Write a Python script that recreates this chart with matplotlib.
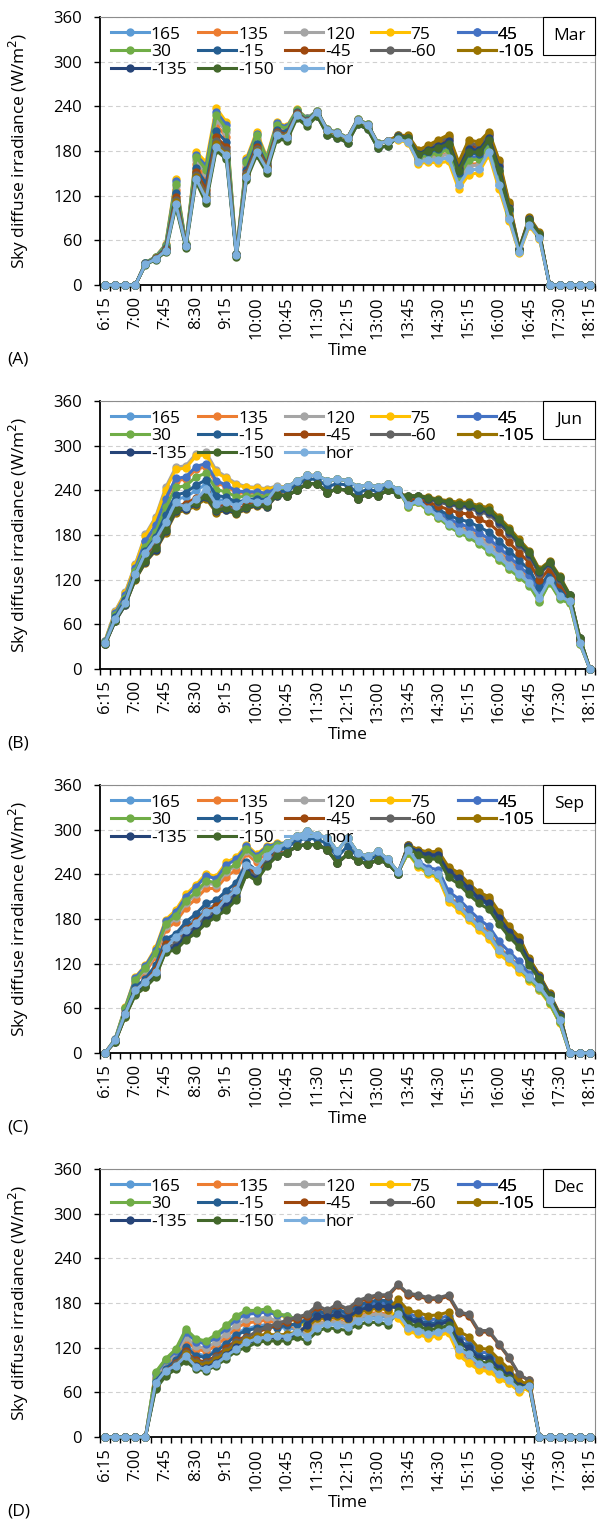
import numpy as np
import matplotlib
matplotlib.use('Agg')
import matplotlib.pyplot as plt
from matplotlib.patches import Rectangle

plt.rcParams['font.family'] = ['Open Sans', 'DejaVu Sans']

# time of day, 15 min steps
times = ['6:15', '6:30', '6:45', '7:00', '7:15', '7:30', '7:45', '8:00', '8:15', '8:30',
         '8:45', '9:00', '9:15', '9:30', '9:45', '10:00', '10:15', '10:30', '10:45', '11:00',
         '11:15', '11:30', '11:45', '12:00', '12:15', '12:30', '12:45', '13:00', '13:15', '13:30',
         '13:45', '14:00', '14:15', '14:30', '14:45', '15:00', '15:15', '15:30', '15:45', '16:00',
         '16:15', '16:30', '16:45', '17:00', '17:15', '17:30', '17:45', '18:00', '18:15']

series_names = ['165', '135', '120', '75', '45', '30', '-15', '-45', '-60', '-105', '-135', '-150', 'hor']
colors = ['#5B9BD5', '#ED7D31', '#A5A5A5', '#FFC000', '#4472C4', '#70AD47', '#255E91',
          '#9E480E', '#636363', '#997300', '#264478', '#43682B', '#7CAFDD']

# ---- March ----
mar_165 = [0,0,0,0,28,35,47,112,53,147,121,191,179,40,148,182,158,203,200,230,219,233,208,204,197,222,215,190,193,196,192,165,168,168,171,134,154,156,179,134,89,44,81,63,0,0,0,0,0]
mar_135 = [0,0,0,0,29,37,51,128,54,163,143,215,199,41,159,194,165,211,207,233,222,233,208,204,197,222,215,190,193,197,194,168,172,173,177,140,162,163,184,141,93,45,83,65,0,0,0,0,0]
mar_120 = [0,0,0,0,29,37,52,133,54,168,150,222,206,41,163,198,167,214,209,234,223,233,208,204,197,222,215,190,193,197,193,167,171,172,176,139,160,161,183,139,92,45,82,64,0,0,0,0,0]
mar_75 = [0,0,0,0,30,38,55,143,55,179,165,238,219,42,170,206,172,219,213,236,224,234,209,205,198,223,216,191,193,195,191,163,165,164,166,129,148,151,175,129,86,43,79,62,0,0,0,0,0]
mar_45 = [0,0,0,0,30,38,54,140,55,175,160,233,215,42,168,203,170,217,212,235,224,234,209,205,198,223,216,191,193,198,196,172,177,180,185,148,172,172,191,149,99,46,86,67,0,0,0,0,0]
mar_30 = [0,0,0,0,30,37,53,136,55,172,155,228,210,42,165,201,169,215,210,235,223,234,209,205,198,223,216,191,193,198,195,171,175,177,182,145,168,169,188,146,97,46,85,66,0,0,0,0,0]
mar_m15 = [0,0,0,0,29,36,50,123,54,157,136,207,192,41,155,190,162,208,205,232,221,233,208,204,197,222,215,190,193,199,197,174,179,183,188,151,177,176,194,153,101,47,87,67,0,0,0,0,0]
mar_m45 = [0,0,0,0,28,36,48,118,53,152,128,199,185,40,151,186,160,206,202,231,220,233,208,204,197,222,215,190,193,200,199,178,184,190,196,159,187,185,201,161,107,48,89,69,0,0,0,0,0]
mar_m60 = [0,0,0,0,28,35,47,114,53,148,123,194,181,40,149,183,158,204,201,230,220,233,208,204,197,222,215,190,193,201,200,179,186,192,199,162,191,188,203,165,109,49,90,70,0,0,0,0,0]
mar_m105 = [0,0,0,0,28,35,46,111,53,145,118,189,176,40,146,180,157,202,200,229,219,232,207,203,196,221,214,189,193,201,201,181,188,195,202,165,195,192,206,168,111,49,91,71,0,0,0,0,0]
mar_m135 = [0,0,0,0,28,35,46,108,52,142,114,184,172,40,144,177,154,199,197,227,217,227,202,198,191,216,209,184,187,200,198,176,182,187,193,156,183,181,198,158,104,48,88,69,0,0,0,0,0]
mar_m150 = [0,0,0,0,27,34,44,105,50,139,110,181,169,38,141,174,151,196,194,224,213,227,202,198,191,216,209,184,187,199,197,175,180,184,190,153,179,178,195,154,102,47,87,68,0,0,0,0,0]
mar_hor = [0,0,0,0,28,35,46,109,53,143,116,186,174,40,145,179,156,201,199,229,219,233,208,204,197,222,215,190,193,196,192,165,168,168,171,134,154,156,179,134,89,44,81,63,0,0,0,0,0]

# ---- June ----
jun_165 = [35,68,91,126,154,173,201,228,231,240,248,227,227,220,224,227,225,237,244,253,260,260,253,255,253,245,247,245,249,241,219,224,213,204,194,185,179,171,160,149,137,126,114,92,117,96,89,34,0]
jun_135 = [37,74,98,135,170,191,226,253,255,268,272,250,245,237,236,237,235,242,244,253,260,260,253,255,253,245,247,245,249,241,221,226,216,208,199,191,186,178,169,158,145,133,121,99,122,100,90,36,0]
jun_120 = [38,78,103,141,181,204,244,271,273,289,291,267,258,249,245,244,242,246,244,253,260,260,253,255,253,245,247,245,249,241,220,225,215,207,197,189,184,176,166,155,142,131,119,97,120,99,90,35,0]
jun_75 = [38,77,102,140,179,202,241,268,270,286,288,264,256,247,244,243,241,245,244,253,260,260,253,255,253,245,247,245,249,241,218,224,212,203,193,184,178,169,158,147,135,124,113,91,117,95,88,34,0]
jun_45 = [37,75,99,136,172,193,229,256,258,272,276,253,247,239,238,238,236,243,244,253,260,260,253,255,253,245,247,245,249,241,223,227,218,211,202,195,191,183,175,163,151,138,126,103,125,103,92,36,0]
jun_30 = [36,72,95,132,164,184,217,244,246,258,263,241,238,231,232,233,231,240,244,253,260,260,253,255,253,245,247,245,249,241,218,224,212,203,192,183,177,168,157,146,134,123,112,90,116,94,88,34,0]
jun_m15 = [35,70,93,128,158,177,207,234,237,247,254,233,231,224,227,229,227,238,239,247,255,255,245,249,247,237,241,239,245,238,225,228,221,214,207,201,198,191,184,172,159,146,133,110,129,108,93,38,0]
jun_m45 = [34,66,89,123,149,166,192,219,222,230,238,219,220,214,220,223,221,235,233,240,249,249,237,242,240,229,235,233,240,235,228,230,224,219,214,210,208,201,196,184,170,156,143,119,135,114,96,39,0]
jun_m60 = [34,65,88,122,147,164,189,216,219,226,235,216,218,212,218,222,220,234,233,240,249,249,237,242,240,229,235,233,240,235,231,232,228,224,221,218,217,211,208,195,182,166,152,127,141,120,98,41,0]
jun_m105 = [33,64,86,120,143,159,183,210,213,219,229,210,213,208,215,219,217,233,233,240,249,249,237,242,240,229,235,233,240,235,233,233,231,228,226,224,224,219,217,204,190,174,159,134,145,125,100,42,0]
jun_m135 = [33,64,86,121,144,160,185,212,215,221,231,212,214,209,216,220,218,233,233,240,249,249,237,242,240,229,235,233,240,235,232,232,229,226,223,220,219,214,211,198,184,169,154,130,142,122,99,41,0]
jun_m150 = [33,65,87,121,145,162,187,214,217,223,233,213,216,210,217,221,219,234,233,240,249,249,237,242,240,229,235,233,240,235,232,233,230,227,224,222,222,216,214,201,187,171,157,132,144,123,99,42,0]
jun_hor = [35,67,89,127,156,174,197,224,217,228,242,222,224,219,228,224,226,244,244,253,260,260,253,255,253,245,247,245,249,241,220,226,215,206,195,186,181,172,161,150,138,127,116,96,120,98,91,35,0]

# ---- September ----
sep_165 = [0,16,53,85,97,114,149,154,170,181,194,199,211,223,252,242,259,269,282,291,298,293,289,271,289,269,264,271,260,243,269,251,242,237,205,195,181,168,156,136,124,111,98,85,67,41,0,0,0]
sep_135 = [0,18,58,95,109,129,166,176,195,207,221,221,237,246,268,256,270,277,282,291,298,293,289,271,289,269,264,271,260,243,270,253,245,240,210,200,186,173,162,142,129,116,102,87,68,42,0,0,0]
sep_120 = [0,18,59,97,112,133,170,181,201,213,228,226,243,252,272,260,273,278,282,291,298,293,289,271,289,269,264,271,260,243,269,252,243,239,208,197,183,170,159,139,127,114,100,86,67,41,0,0,0]
sep_75 = [0,19,62,102,118,141,179,192,213,226,241,237,256,263,280,267,278,282,282,291,298,293,289,271,289,269,264,271,260,243,268,250,240,235,203,192,178,165,153,133,122,109,97,84,66,40,0,0,0]
sep_45 = [0,19,61,101,117,139,177,189,210,223,238,234,253,260,278,265,277,281,282,291,298,293,289,271,289,269,264,271,260,243,272,257,249,246,217,207,193,180,170,150,136,123,106,90,70,44,0,0,0]
sep_30 = [0,18,60,98,114,135,173,184,204,216,231,229,246,254,274,262,274,279,282,291,298,293,289,271,289,269,264,271,260,243,269,252,243,239,208,197,183,170,159,139,127,114,100,86,67,41,0,0,0]
sep_m15 = [0,17,54,88,100,118,153,160,176,187,201,205,218,229,256,245,262,271,276,285,289,287,281,263,278,264,259,265,258,242,278,268,264,264,241,232,218,206,199,179,160,147,121,101,77,50,0,0,0]
sep_m45 = [0,16,52,84,96,112,147,152,167,177,191,197,208,220,250,240,258,269,269,278,280,280,273,255,267,258,254,259,255,240,279,271,267,267,245,237,223,211,204,184,165,151,124,103,79,52,0,0,0]
sep_m60 = [0,16,51,82,93,108,142,146,161,171,184,191,202,215,246,236,255,267,269,278,280,280,273,255,267,258,254,259,255,240,279,272,269,269,248,240,226,213,207,187,168,154,126,104,79,52,0,0,0]
sep_m105 = [0,15,49,79,89,103,137,140,154,163,176,185,194,208,241,232,252,265,269,278,280,280,273,255,267,258,254,259,255,240,280,273,270,271,250,242,228,216,210,190,170,156,127,105,80,53,0,0,0]
sep_m135 = [0,15,50,80,90,105,139,142,157,166,179,187,197,211,243,234,253,265,269,278,280,280,273,255,267,258,254,259,255,240,278,270,266,266,243,235,221,208,201,181,163,149,123,102,78,51,0,0,0]
sep_m150 = [0,15,49,78,88,102,136,138,152,161,174,183,192,206,240,231,251,264,269,278,280,280,273,255,267,258,254,259,255,240,276,266,261,260,236,227,213,201,193,173,156,142,118,99,76,49,0,0,0]
sep_hor = [0,17,53,84,96,109,141,156,165,174,190,192,208,219,252,246,265,276,282,291,298,293,289,271,289,269,264,271,260,243,273,255,245,240,208,197,183,170,158,138,127,114,102,89,71,44,0,0,0]

# ---- December ----
dec_165 = [0,0,0,0,0,76,94,105,124,112,109,117,128,140,145,149,151,148,146,145,138,151,153,154,150,159,163,163,161,165,148,144,139,142,146,117,107,96,95,84,76,64,67,0,0,0,0,0,0]
dec_135 = [0,0,0,0,0,79,97,109,130,118,115,123,134,147,153,155,157,153,150,147,142,154,155,157,153,162,166,167,165,164,146,142,137,140,144,115,104,94,92,82,75,63,67,0,0,0,0,0,0]
dec_120 = [0,0,0,0,0,81,99,111,134,122,119,128,139,151,158,159,161,156,152,148,140,153,154,155,152,161,164,165,163,162,144,140,135,138,142,112,102,92,90,80,73,62,66,0,0,0,0,0,0]
dec_75 = [0,0,0,0,0,86,104,117,143,130,127,136,148,161,168,168,170,164,161,156,147,160,159,162,158,167,171,173,171,160,142,138,133,136,140,110,99,90,88,78,72,61,66,0,0,0,0,0,0]
dec_45 = [0,0,0,0,0,85,103,115,141,128,125,134,146,158,165,166,168,164,163,158,154,167,163,169,163,173,178,180,179,180,165,162,157,159,163,136,129,114,113,99,88,71,71,0,0,0,0,0,0]
dec_30 = [0,0,0,0,0,87,105,118,145,132,129,138,150,163,170,170,172,166,163,158,151,163,161,165,160,170,174,176,175,174,157,154,149,151,155,127,119,106,105,92,83,68,69,0,0,0,0,0,0]
dec_m15 = [0,0,0,0,0,74,92,103,121,109,107,115,125,137,143,146,148,147,150,152,158,170,165,172,166,177,181,184,183,176,160,157,152,154,158,130,122,109,107,94,84,69,70,0,0,0,0,0,0]
dec_m45 = [0,0,0,0,0,71,89,99,115,103,101,109,119,130,135,140,146,150,155,159,163,175,169,177,171,181,186,189,189,204,191,189,185,185,189,166,163,141,141,124,106,83,76,0,0,0,0,0,0]
dec_m60 = [0,0,0,0,0,70,88,98,113,101,99,107,116,128,133,142,148,152,157,161,165,177,170,179,172,183,188,191,191,205,193,191,187,187,191,168,165,143,143,125,107,84,76,0,0,0,0,0,0]
dec_m105 = [0,0,0,0,0,69,87,96,111,99,97,104,114,125,130,136,138,137,138,141,147,160,159,162,158,167,171,173,171,185,170,167,163,164,168,142,135,119,118,104,91,74,72,0,0,0,0,0,0]
dec_m135 = [0,0,0,0,0,66,84,94,106,95,93,100,110,121,125,131,133,133,133,137,151,163,161,165,160,170,174,176,175,174,157,154,149,151,155,127,119,106,105,92,83,68,69,0,0,0,0,0,0]
dec_m150 = [0,0,0,0,0,64,82,91,102,91,89,96,105,116,120,127,129,129,129,134,129,142,147,145,143,151,154,154,151,169,152,149,144,146,150,122,112,101,99,87,79,66,68,0,0,0,0,0,0]
dec_hor = [0,0,0,0,0,72,89,96,109,94,91,98,109,118,127,132,134,136,135,141,134,147,152,150,148,156,159,159,156,165,147,143,138,141,145,118,111,98,96,84,76,64,69,0,0,0,0,0,0]

panels = [
    ('Mar', '(A)', [mar_165, mar_135, mar_120, mar_75, mar_45, mar_30, mar_m15, mar_m45,
                    mar_m60, mar_m105, mar_m135, mar_m150, mar_hor]),
    ('Jun', '(B)', [jun_165, jun_135, jun_120, jun_75, jun_45, jun_30, jun_m15, jun_m45,
                    jun_m60, jun_m105, jun_m135, jun_m150, jun_hor]),
    ('Sep', '(C)', [sep_165, sep_135, sep_120, sep_75, sep_45, sep_30, sep_m15, sep_m45,
                    sep_m60, sep_m105, sep_m135, sep_m150, sep_hor]),
    ('Dec', '(D)', [dec_165, dec_135, dec_120, dec_75, dec_45, dec_30, dec_m15, dec_m45,
                    dec_m60, dec_m105, dec_m135, dec_m150, dec_hor]),
]

# legend columns, the way excel lays them out row by row
legend_cols = [['165', '30', '-135'], ['135', '-15', '-150'], ['120', '-45', 'hor'],
               ['75', '-60'], ['45', '-105']]
legend_x = [0.022, 0.198, 0.374, 0.547, 0.723]

W, H = 601, 1519
fig = plt.figure(figsize=(W / 100, H / 100), dpi=100)
x = np.arange(len(times))
fs = 12.5

for k, (month, letter, data) in enumerate(panels):
    top_px = 17 + 384 * k
    ax = fig.add_axes([100 / W, 1 - (top_px + 268) / H, 495 / W, 268 / H])

    lines = {}
    for name, vals, c in zip(series_names, data, colors):
        ln, = ax.plot(x, vals, '-o', color=c, lw=2.2, ms=5, mec=c, clip_on=False,
                      label=name, zorder=3)
        lines[name] = ln

    ax.set_xlim(-0.5, len(times) - 0.5)
    ax.set_ylim(0, 360)
    ax.set_yticks(np.arange(0, 361, 60))
    ax.set_xticks(x[::3])
    ax.set_xticklabels(times[::3], rotation=90)
    ax.set_xticks(np.arange(-0.5, len(times), 1), minor=True)
    ax.tick_params(axis='x', which='major', length=0, pad=8, labelsize=12)
    ax.tick_params(axis='x', which='minor', length=4, width=1, direction='out')
    ax.tick_params(axis='y', length=4, width=1, pad=9, labelsize=12)

    ax.grid(axis='y', color='#D0D0D0', linestyle=(0, (4, 3)), lw=0.8)
    ax.set_axisbelow(True)
    for s in ['left', 'bottom']:
        ax.spines[s].set_color('black')
        ax.spines[s].set_linewidth(1.3)
    for s in ['top', 'right']:
        ax.spines[s].set_color('#8C8C8C')
        ax.spines[s].set_linewidth(0.8)

    ax.set_ylabel('Sky diffuse irradiance (W/m$^2$)', fontsize=fs)
    ax.yaxis.set_label_coords(-0.14, 0.5)
    # "Time" sits about 66 px under the plot
    ax.set_xlabel('Time', fontsize=fs, va='center')
    ax.xaxis.set_label_coords(0.5, -66 / 268)

    # legend, one column at a time
    for cx, col in zip(legend_x, legend_cols):
        leg = ax.legend(handles=[lines[n] for n in col], loc='upper left',
                        bbox_to_anchor=(cx, 0.965), frameon=False, fontsize=fs,
                        borderpad=0, borderaxespad=0, handlelength=2.2,
                        handletextpad=0.1, labelspacing=0.1)
        leg.set_zorder(6)
        ax.add_artist(leg)

    # month box top right
    ax.add_patch(Rectangle((0.895, 0.858), 0.105, 0.142, transform=ax.transAxes,
                           facecolor='white', edgecolor='black', lw=0.8, zorder=7,
                           clip_on=False))
    ax.text(0.9475, 0.929, month, transform=ax.transAxes, ha='center', va='center',
            fontsize=fs, zorder=8)

    fig.text(7 / W, 1 - (360 + 384 * k) / H, letter, ha='left', va='center', fontsize=fs)

fig.savefig('out.png', dpi=100)
